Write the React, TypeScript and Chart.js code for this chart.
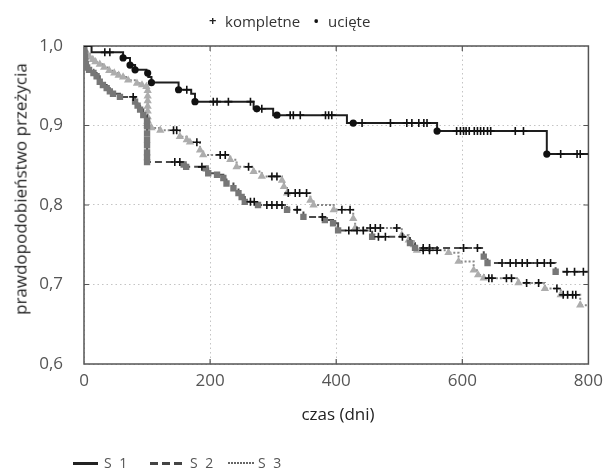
import React, { useEffect, useRef } from 'react';
import { Chart, registerables } from 'chart.js';

Chart.register(...registerables);

// ---- axis ticks ----
const xTicks = [0, 200, 400, 600, 800];
const yTicks = [0.6, 0.7, 0.8, 0.9, 1.0];
const xMax = 800;

// ---- S1 ----
const s1Times = [12, 62, 73, 81, 99, 102, 107, 150, 170, 176, 269, 300, 417, 560, 734];
const s1Surv = [0.992, 0.985, 0.976, 0.970, 0.966, 0.961, 0.954, 0.945, 0.940, 0.930, 0.921, 0.913, 0.903, 0.893, 0.864];
const s1Complete = [33, 41, 163, 205, 211, 229, 264, 282, 327, 332, 343, 383, 388, 393, 441, 486, 512, 520, 531, 539, 544, 591, 597, 602, 606, 611, 619, 624, 629, 634, 640, 645, 684, 697, 756, 782, 787];
const s1Censored = [62, 73, 81, 101, 107, 150, 176, 274, 306, 427, 560, 734];

// ---- S2 ----
const s2Times = [0.5, 1, 1.5, 2, 3, 5, 8, 15, 20, 25, 30, 36, 41, 46, 57, 81, 85, 89, 94, 100, 100, 100, 100, 100, 100, 100, 100, 158, 162, 193, 197, 211, 221, 226, 237, 245, 250, 255, 276, 322, 348, 382, 395, 403, 457, 517, 525, 634, 640, 748];
const s2Surv = [0.996, 0.991, 0.986, 0.981, 0.977, 0.973, 0.970, 0.966, 0.962, 0.955, 0.951, 0.947, 0.943, 0.940, 0.936, 0.930, 0.925, 0.920, 0.913, 0.906, 0.899, 0.890, 0.882, 0.875, 0.866, 0.860, 0.854, 0.851, 0.848, 0.846, 0.840, 0.838, 0.834, 0.827, 0.821, 0.815, 0.810, 0.804, 0.800, 0.794, 0.785, 0.781, 0.777, 0.768, 0.760, 0.752, 0.746, 0.735, 0.727, 0.716];
const s2Complete = [78, 144, 152, 187, 264, 270, 290, 298, 306, 314, 338, 378, 420, 433, 443, 467, 478, 505, 538, 548, 602, 624, 663, 676, 685, 695, 703, 719, 730, 740, 766, 778, 792];

// ---- S3 ----
const s3Times = [2, 5, 9, 14, 18, 25, 32, 40, 48, 55, 62, 70, 84, 92, 99, 101, 101, 101, 101, 101, 101, 101, 101, 107, 121, 152, 163, 168, 184, 189, 232, 242, 269, 282, 314, 317, 322, 359, 364, 396, 427, 430, 504, 515, 523, 528, 578, 594, 618, 625, 634, 689, 731, 756, 787];
const s3Surv = [0.995, 0.990, 0.986, 0.983, 0.980, 0.977, 0.973, 0.969, 0.966, 0.963, 0.961, 0.957, 0.953, 0.951, 0.949, 0.944, 0.937, 0.931, 0.924, 0.918, 0.911, 0.906, 0.900, 0.897, 0.894, 0.886, 0.882, 0.879, 0.869, 0.863, 0.857, 0.848, 0.842, 0.836, 0.831, 0.823, 0.815, 0.806, 0.800, 0.794, 0.783, 0.771, 0.762, 0.756, 0.750, 0.743, 0.740, 0.729, 0.718, 0.712, 0.708, 0.702, 0.695, 0.687, 0.674];
const s3Complete = [142, 147, 179, 216, 224, 261, 298, 306, 324, 335, 342, 353, 409, 422, 454, 462, 470, 496, 538, 548, 560, 642, 647, 670, 678, 702, 721, 750, 760, 767, 775, 780];

const FONT = "'Open Sans', 'DejaVu Sans', sans-serif";

function stepPoints(times: number[], surv: number[]) {
  const pts = [{ x: 0, y: 1 }];
  times.forEach((t, i) => pts.push({ x: t, y: surv[i] }));
  pts.push({ x: xMax, y: surv[surv.length - 1] });
  return pts;
}

function survAt(times: number[], surv: number[], t: number) {
  let v = 1;
  for (let i = 0; i < times.length; i++) {
    if (times[i] <= t) v = surv[i];
  }
  return v;
}

function marks(times: number[], surv: number[], at: number[]) {
  return at.map((t) => ({ x: t, y: survAt(times, surv, t) }));
}

function vertexRadius(n: number, r: number) {
  const arr: number[] = [];
  for (let i = 0; i < n + 2; i++) arr.push(i === 0 || i === n + 1 ? 0 : r);
  return arr;
}

const framePlugin = {
  id: 'frame',
  beforeDatasetsDraw(chart: any) {
    const { ctx, chartArea } = chart;
    const { left, right, top, bottom } = chartArea;
    const xs = chart.scales.x;
    const ys = chart.scales.y;
    ctx.save();
    ctx.strokeStyle = '#555';
    ctx.lineWidth = 1.5;
    ctx.strokeRect(left, top, right - left, bottom - top);
    ctx.lineWidth = 1.2;
    ctx.beginPath();
    [200, 400, 600].forEach((v) => {
      const px = xs.getPixelForValue(v);
      ctx.moveTo(px, bottom);
      ctx.lineTo(px, bottom - 5);
      ctx.moveTo(px, top);
      ctx.lineTo(px, top + 5);
    });
    [0.7, 0.8, 0.9].forEach((v) => {
      const py = ys.getPixelForValue(v);
      ctx.moveTo(left, py);
      ctx.lineTo(left + 5, py);
      ctx.moveTo(right, py);
      ctx.lineTo(right - 5, py);
    });
    ctx.stroke();
    ctx.restore();
  },
};

const crossStyle = {
  type: 'scatter' as const,
  showLine: false,
  pointStyle: 'cross',
  pointRadius: 4,
  pointBorderWidth: 1.6,
  pointBorderColor: '#111',
  pointBackgroundColor: '#111',
  order: 0,
};

export default function App() {
  const ref = useRef<HTMLCanvasElement | null>(null);

  useEffect(() => {
    if (!ref.current) return;
    const chart = new Chart(ref.current, {
      type: 'line',
      data: {
        datasets: [
          {
            label: 'S 1 kompletne',
            data: marks(s1Times, s1Surv, s1Complete),
            ...crossStyle,
          } as any,
          {
            label: 'S 2 kompletne',
            data: marks(s2Times, s2Surv, s2Complete),
            ...crossStyle,
          } as any,
          {
            label: 'S 3 kompletne',
            data: marks(s3Times, s3Surv, s3Complete),
            ...crossStyle,
          } as any,
          {
            label: 'S 1 ucięte',
            type: 'scatter',
            showLine: false,
            data: marks(s1Times, s1Surv, s1Censored),
            pointStyle: 'circle',
            pointRadius: 3.6,
            pointBorderWidth: 0,
            pointBackgroundColor: '#111',
            order: 0,
          } as any,
          {
            label: 'S 1',
            data: stepPoints(s1Times, s1Surv),
            stepped: true,
            borderColor: '#1e1e1e',
            borderWidth: 2,
            pointRadius: 0,
            fill: false,
            order: 1,
          },
          {
            label: 'S 2',
            data: stepPoints(s2Times, s2Surv),
            stepped: true,
            borderColor: '#4a4a4a',
            borderWidth: 2,
            borderDash: [7, 4],
            pointStyle: 'rect',
            pointRadius: vertexRadius(s2Times.length, 4.5),
            pointBorderWidth: 0,
            pointBackgroundColor: '#777',
            fill: false,
            order: 2,
          } as any,
          {
            label: 'S 3',
            data: stepPoints(s3Times, s3Surv),
            stepped: true,
            borderColor: '#888',
            borderWidth: 2,
            borderDash: [2, 2],
            pointStyle: 'triangle',
            pointRadius: vertexRadius(s3Times.length, 4.8),
            pointBorderWidth: 0,
            pointBackgroundColor: '#adadad',
            fill: false,
            order: 3,
          } as any,
        ],
      },
      options: {
        animation: false,
        responsive: false,
        devicePixelRatio: 1,
        events: [],
        layout: { padding: { top: 46, right: 21, bottom: 0, left: 0 } },
        plugins: {
          legend: { display: false },
          tooltip: { enabled: false },
        },
        scales: {
          x: {
            type: 'linear',
            min: 0,
            max: xMax,
            afterBuildTicks: (scale: any) => {
              scale.ticks = xTicks.map((v) => ({ value: v }));
            },
            afterFit: (scale: any) => {
              scale.height = 108;
            },
            ticks: {
              color: '#555',
              font: { family: FONT, size: 17 },
              padding: 7,
              maxRotation: 0,
            },
            grid: { color: '#c4c4c4', lineWidth: 1, drawTicks: false },
            border: { display: false, dash: [1.5, 3] },
          },
          y: {
            type: 'linear',
            min: 0.6,
            max: 1.0,
            afterBuildTicks: (scale: any) => {
              scale.ticks = yTicks.map((v) => ({ value: v }));
            },
            afterFit: (scale: any) => {
              scale.width = 84;
            },
            ticks: {
              color: '#555',
              font: { family: FONT, size: 17 },
              padding: 21,
              callback: (v: any) => Number(v).toFixed(1).replace('.', ','),
            },
            grid: { color: '#c4c4c4', lineWidth: 1, drawTicks: false },
            border: { display: false, dash: [1.5, 3] },
          },
        },
      },
      plugins: [framePlugin],
    } as any);
    return () => chart.destroy();
  }, []);

  const text: React.CSSProperties = {
    position: 'absolute',
    fontFamily: FONT,
    whiteSpace: 'nowrap',
    lineHeight: 1,
  };

  return (
    <div style={{ position: 'absolute', left: 0, top: 0, width: 610, height: 472, background: '#fff', overflow: 'hidden' }}>
      <canvas ref={ref} width={610} height={472} style={{ display: 'block', width: 610, height: 472 }} />
      {/* top legend */}
      <span style={{ ...text, left: 209, top: 14, fontSize: 13, fontWeight: 700, color: '#222' }}>+</span>
      <span style={{ ...text, left: 225, top: 14, fontSize: 15, color: '#333' }}>kompletne</span>
      <span style={{ ...text, left: 313, top: 12, fontSize: 17, color: '#111' }}>•</span>
      <span style={{ ...text, left: 328, top: 14, fontSize: 15, color: '#333' }}>ucięte</span>
      {/* y title */}
      <div
        style={{
          ...text,
          left: 20,
          top: 189,
          fontSize: 17,
          color: '#222',
          transform: 'translate(-50%, -50%) rotate(-90deg)',
        }}
      >
        prawdopodobieństwo przeżycia
      </div>
      {/* x title */}
      <div style={{ ...text, left: 338, top: 413, fontSize: 17, color: '#222', transform: 'translate(-50%, -50%)' }}>
        czas (dni)
      </div>
      {/* bottom legend */}
      <div style={{ position: 'absolute', left: 73, top: 462, width: 25, height: 3, background: '#222' }} />
      <span style={{ ...text, left: 104, top: 456, fontSize: 14, color: '#555', letterSpacing: 2 }}>S 1</span>
      <div
        style={{
          position: 'absolute',
          left: 150,
          top: 462,
          width: 34,
          height: 3,
          background: 'repeating-linear-gradient(90deg, #444 0 8px, transparent 8px 12px)',
        }}
      />
      <span style={{ ...text, left: 190, top: 456, fontSize: 14, color: '#555', letterSpacing: 2 }}>S 2</span>
      <div
        style={{
          position: 'absolute',
          left: 228,
          top: 462,
          width: 26,
          height: 2,
          background: 'repeating-linear-gradient(90deg, #666 0 2px, transparent 2px 3px)',
        }}
      />
      <span style={{ ...text, left: 258, top: 456, fontSize: 14, color: '#555', letterSpacing: 2 }}>S 3</span>
    </div>
  );
}
